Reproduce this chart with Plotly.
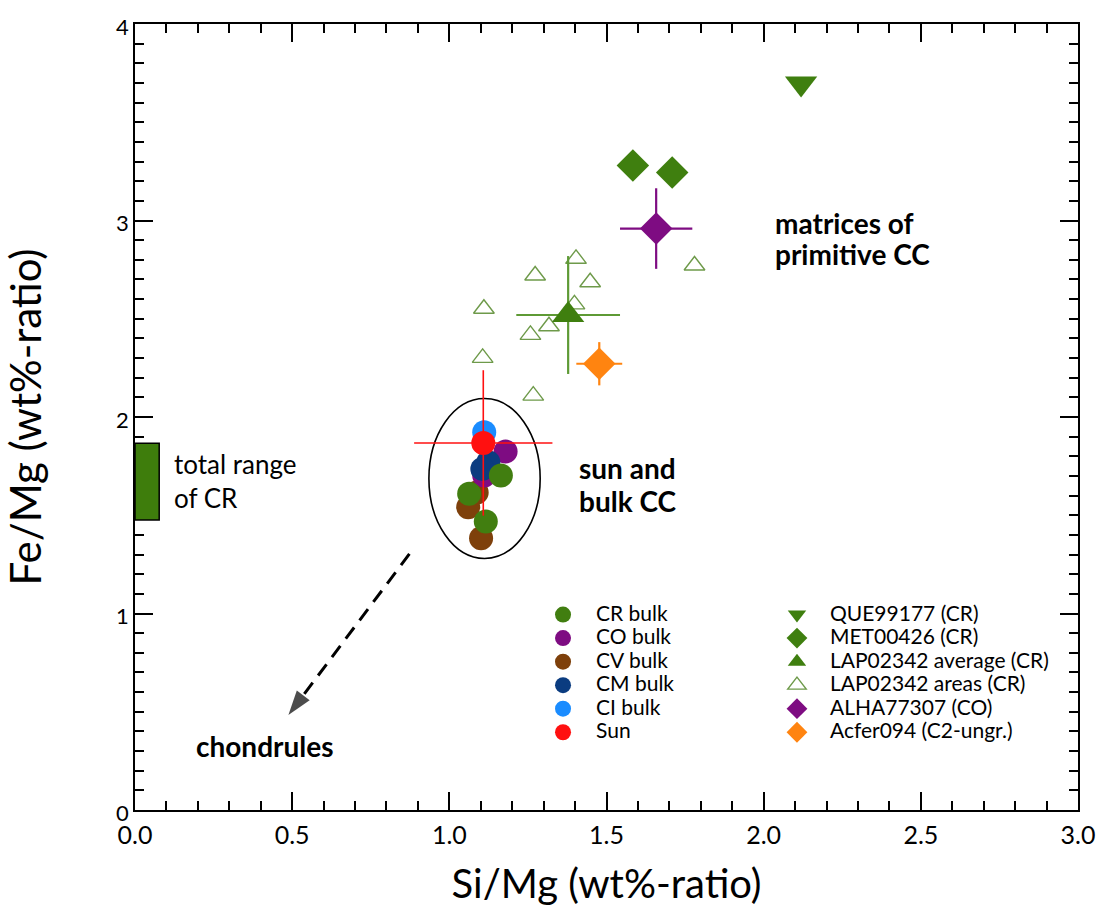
import plotly.graph_objects as go

# ---------------- data ----------------
cr_bulk_x = [1.164, 1.063, 1.116]
cr_bulk_y = [1.702, 1.609, 1.468]
co_bulk_x = [1.179, 1.111]
co_bulk_y = [1.824, 1.702]
cv_bulk_x = [1.087, 1.060, 1.101]
cv_bulk_y = [1.616, 1.541, 1.383]
cm_bulk_x = [1.124, 1.105]
cm_bulk_y = [1.770, 1.736]
ci_bulk_x = [1.111]
ci_bulk_y = [1.923]
sun_x = [1.108]
sun_y = [1.868]
sun_err_x = [0.22]
sun_err_y = [0.37]

que_x = [2.119]
que_y = [3.697]
met_x = [1.584, 1.709]
met_y = [3.280, 3.244]
lap_avg_x = [1.378]
lap_avg_y = [2.519]
lap_avg_err_x = [0.165]
lap_avg_err_y = [0.30]
lap_area_x = [1.403, 1.273, 1.448, 1.110, 1.398, 1.317, 1.258, 1.106, 1.267, 1.780]
lap_area_y = [2.805, 2.720, 2.686, 2.551, 2.573, 2.462, 2.418, 2.301, 2.109, 2.771]
alha_x = [1.658]
alha_y = [2.959]
alha_err_x = [0.115]
alha_err_y = [0.205]
acfer_x = [1.477]
acfer_y = [2.271]
acfer_err_x = [0.073]
acfer_err_y = [0.11]

# annotation geometry (data units)
cr_range_x = [0.0, 0.077]
cr_range_y = [1.476, 1.866]
ellipse_x = [0.935, 1.289]
ellipse_y = [1.280, 2.094]
arrow_x = [0.873, 0.488]
arrow_y = [1.303, 0.483]

FONT = "Lato"
GREEN = "#3F7F0F"
PURPLE = "#7E0C82"
BROWN = "#7E400B"
DBLUE = "#0B3C80"
LBLUE = "#1A8CFF"
RED = "#FF1010"
ORANGE = "#FF8410"


def lg(name):
    return '<span style="font-size:21px">' + name + '</span>'


fig = go.Figure()

# shapes
fig.add_shape(type="circle", xref="x", yref="y",
              x0=ellipse_x[0], x1=ellipse_x[1], y0=ellipse_y[0], y1=ellipse_y[1],
              line=dict(color="black", width=1.6), layer="below")
fig.add_shape(type="rect", xref="x", yref="y",
              x0=cr_range_x[0], x1=cr_range_x[1], y0=cr_range_y[0], y1=cr_range_y[1],
              fillcolor="#3E7D0C", line=dict(color="black", width=1.5), layer="above")

# dashed arrow to chondrules
fig.add_trace(go.Scatter(x=arrow_x, y=arrow_y, mode="lines+markers",
                         line=dict(color="black", width=3, dash="14px,9px"),
                         marker=dict(symbol=["circle", "arrow"], size=[0, 26],
                                     angleref="previous", color="black",
                                     line=dict(width=0)),
                         showlegend=False, hoverinfo="skip"))

# column 2 series
fig.add_trace(go.Scatter(x=lap_area_x, y=lap_area_y, mode="markers", name=lg("LAP02342 areas (CR)"),
                         marker=dict(symbol="triangle-up-open", size=18, color="#6E9A4A",
                                     line=dict(width=1.4)),
                         legend="legend2", legendrank=4))
fig.add_trace(go.Scatter(x=lap_avg_x, y=lap_avg_y, mode="markers", name=lg("LAP02342 average (CR)"),
                         marker=dict(symbol="triangle-up", size=28, color=GREEN),
                         error_x=dict(type="data", array=lap_avg_err_x, color="#5E9A35", thickness=2.2, width=0),
                         error_y=dict(type="data", array=lap_avg_err_y, color="#5E9A35", thickness=2.2, width=0),
                         legend="legend2", legendrank=3))
fig.add_trace(go.Scatter(x=acfer_x, y=acfer_y, mode="markers", name=lg("Acfer094 (C2-ungr.)"),
                         marker=dict(symbol="diamond", size=25, color=ORANGE),
                         error_x=dict(type="data", array=acfer_err_x, color=ORANGE, thickness=2.2, width=0),
                         error_y=dict(type="data", array=acfer_err_y, color=ORANGE, thickness=2.2, width=0),
                         legend="legend2", legendrank=6))
fig.add_trace(go.Scatter(x=alha_x, y=alha_y, mode="markers", name=lg("ALHA77307 (CO)"),
                         marker=dict(symbol="diamond", size=25, color=PURPLE),
                         error_x=dict(type="data", array=alha_err_x, color=PURPLE, thickness=2.2, width=0),
                         error_y=dict(type="data", array=alha_err_y, color=PURPLE, thickness=2.2, width=0),
                         legend="legend2", legendrank=5))
fig.add_trace(go.Scatter(x=met_x, y=met_y, mode="markers", name=lg("MET00426 (CR)"),
                         marker=dict(symbol="diamond", size=25, color=GREEN),
                         legend="legend2", legendrank=2))
fig.add_trace(go.Scatter(x=que_x, y=que_y, mode="markers", name=lg("QUE99177 (CR)"),
                         marker=dict(symbol="triangle-down", size=28, color=GREEN),
                         legend="legend2", legendrank=1))

# column 1 series (bulk)
fig.add_trace(go.Scatter(x=cv_bulk_x, y=cv_bulk_y, mode="markers", name=lg("CV bulk"),
                         marker=dict(size=24, color=BROWN), legendrank=3))
fig.add_trace(go.Scatter(x=co_bulk_x, y=co_bulk_y, mode="markers", name=lg("CO bulk"),
                         marker=dict(size=24, color=PURPLE), legendrank=2))
fig.add_trace(go.Scatter(x=cm_bulk_x, y=cm_bulk_y, mode="markers", name=lg("CM bulk"),
                         marker=dict(size=24, color=DBLUE), legendrank=4))
fig.add_trace(go.Scatter(x=cr_bulk_x, y=cr_bulk_y, mode="markers", name=lg("CR bulk"),
                         marker=dict(size=24, color="#417E10"), legendrank=1))
fig.add_trace(go.Scatter(x=ci_bulk_x, y=ci_bulk_y, mode="markers", name=lg("CI bulk"),
                         marker=dict(size=24, color=LBLUE), legendrank=5))
fig.add_trace(go.Scatter(x=sun_x, y=sun_y, mode="markers", name=lg("Sun"),
                         marker=dict(size=24, color=RED),
                         error_x=dict(type="data", array=sun_err_x, color=RED, thickness=1.6, width=0),
                         error_y=dict(type="data", array=sun_err_y, color=RED, thickness=1.6, width=0),
                         legendrank=6))

# text annotations (one per line, to keep the tight line spacing of the reference)
bold_font = dict(family=FONT, size=28, color="black")
reg_font = dict(family=FONT, size=26, color="black")
text_items = [
    (2.030, 2.985, "<b>matrices of</b>", "left", bold_font),
    (2.030, 2.827, "<b>primitive CC</b>", "left", bold_font),
    (1.407, 1.738, "<b>sun and</b>", "left", bold_font),
    (1.407, 1.575, "<b>bulk CC</b>", "left", bold_font),
    (0.415, 0.328, "<b>chondrules</b>", "center", bold_font),
    (0.117, 1.760, "total range", "left", reg_font),
    (0.117, 1.590, "of CR", "left", reg_font),
]
for tx, ty, tt, anc, fnt in text_items:
    fig.add_annotation(x=tx, y=ty, xref="x", yref="y", text=tt, showarrow=False,
                       xanchor=anc, yanchor="middle", font=fnt)

axis_common = dict(showline=True, linecolor="black", linewidth=1.5, mirror="ticks",
                   ticks="inside", tickcolor="black", tickwidth=1.5, ticklen=18,
                   showgrid=False, zeroline=False)

fig.update_xaxes(range=[0, 3], dtick=0.5, tick0=0, tickformat=".1f",
                 tickfont=dict(family=FONT, size=25, color="black"), ticklabelstandoff=2,
                 minor=dict(dtick=0.1, ticks="inside", ticklen=9, tickcolor="black", tickwidth=1.5, showgrid=False),
                 title=dict(text="Si/Mg (wt%-ratio)", font=dict(family=FONT, size=40, color="black"), standoff=22),
                 **axis_common)
fig.update_yaxes(range=[0, 4], dtick=1, tick0=0,
                 tickfont=dict(family=FONT, size=22, color="black"), ticklabelshift=3,
                 minor=dict(dtick=0.1, ticks="inside", ticklen=9, tickcolor="black", tickwidth=1.5, showgrid=False),
                 title=dict(text="Fe/Mg (wt%-ratio)", font=dict(family=FONT, size=42, color="black"), standoff=64),
                 **axis_common)

legend_common = dict(font=dict(family=FONT, size=15.8, color="black"), bgcolor="rgba(0,0,0,0)",
                     borderwidth=0, traceorder="normal", itemclick=False, itemdoubleclick=False,
                     itemwidth=56,
                     xanchor="left", yanchor="top", yref="paper", xref="paper")
fig.update_layout(
    width=1102, height=916,
    margin=dict(l=135, r=24, t=24, b=106, autoexpand=False),
    paper_bgcolor="white", plot_bgcolor="white",
    font=dict(family=FONT, color="black"),
    showlegend=True,
    legend=dict(x=0.4189, y=0.270, **legend_common),
    legend2=dict(x=0.667, y=0.270, **legend_common),
)

fig.write_html("out.html")
